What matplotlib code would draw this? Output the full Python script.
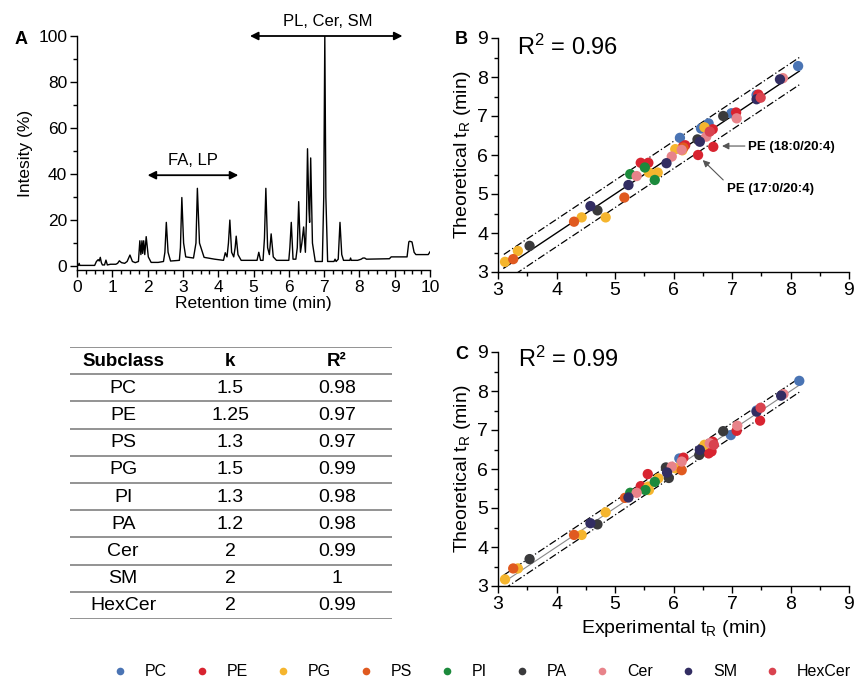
import matplotlib
matplotlib.use("Agg")
import matplotlib.pyplot as plt
from matplotlib.lines import Line2D
from matplotlib.ticker import MultipleLocator
import numpy as np

plt.rcParams['font.family'] = ['Liberation Sans', 'DejaVu Sans']
plt.rcParams['mathtext.fontset'] = 'custom'
plt.rcParams['mathtext.rm'] = 'Liberation Sans'
plt.rcParams['mathtext.it'] = 'Liberation Sans:italic'
plt.rcParams['mathtext.bf'] = 'Liberation Sans:bold'

# ---------------- Data ----------------
# Chromatogram trace (retention time in min, intensity in %)
rt_min = [0, 0.04, 0.06, 0.08, 0.5, 0.55, 0.6, 0.63, 0.66, 0.69, 0.72, 0.78, 0.82, 0.86,
          0.95, 1.1, 1.15, 1.2, 1.26, 1.35, 1.42, 1.5, 1.57, 1.65, 1.74, 1.78, 1.81, 1.84,
          1.86, 1.89, 1.92, 1.96, 2.02, 2.1, 2.3, 2.45, 2.49, 2.53, 2.58, 2.65, 2.9, 2.93,
          2.97, 3.02, 3.08, 3.3, 3.37, 3.41, 3.47, 3.6, 3.9, 4.15, 4.2, 4.25, 4.29, 4.33,
          4.38, 4.44, 4.48, 4.51, 4.56, 4.65, 5.1, 5.15, 5.2, 5.27, 5.31, 5.35, 5.4, 5.45,
          5.5, 5.56, 5.65, 6.0, 6.03, 6.07, 6.12, 6.2, 6.24, 6.28, 6.33, 6.37, 6.42, 6.47,
          6.5, 6.53, 6.57, 6.59, 6.62, 6.67, 6.75, 6.95, 6.99, 7.02, 7.05, 7.1, 7.28, 7.31,
          7.34, 7.4, 7.45, 7.5, 7.55, 7.73, 7.75, 7.77, 7.95, 8.05, 8.1, 8.15, 8.2, 8.85,
          8.9, 9.35, 9.4, 9.42, 9.49, 9.55, 9.6, 9.95, 10.0]
intensity = [0.3, 0.3, 1.2, 0.3, 0.3, 2.0, 2.8, 2.2, 3.8, 1.5, 0.5, 0.5, 2.6, 0.5,
             0.8, 0.8, 1.2, 2.3, 1.5, 1.2, 2.0, 4.8, 2.0, 1.5, 2.0, 11.0, 5.0, 11.0,
             5.5, 11.0, 5.0, 12.8, 4.0, 1.6, 1.6, 2.0, 6.0, 19.0, 6.0, 2.2, 2.5, 8.0,
             29.8, 10.0, 4.0, 3.5, 10.0, 33.8, 10.0, 3.8, 3.0, 2.5, 5.8, 4.0, 10.0, 20.0,
             6.0, 4.0, 8.0, 13.0, 5.0, 2.5, 2.5, 6.0, 2.5, 2.5, 12.0, 33.8, 8.0, 5.0,
             14.0, 4.0, 2.5, 2.5, 8.0, 19.0, 3.0, 3.0, 8.0, 28.0, 6.0, 10.0, 17.0, 6.0,
             20.0, 51.0, 25.0, 19.0, 47.0, 10.0, 2.0, 2.0, 30.0, 100.0, 30.0, 2.0, 2.0, 3.0,
             2.0, 3.0, 19.0, 5.0, 2.5, 2.5, 3.5, 2.5, 2.5, 3.0, 3.5, 3.5, 3.0, 3.2,
             4.0, 4.0, 10.5, 10.8, 10.5, 6.0, 5.0, 5.0, 6.2]

# Table
subclasses = ['PC', 'PE', 'PS', 'PG', 'PI', 'PA', 'Cer', 'SM', 'HexCer']
k_values = ['1.5', '1.25', '1.3', '1.5', '1.3', '1.2', '2', '2', '2']
r2_values = ['0.98', '0.97', '0.97', '0.99', '0.98', '0.98', '0.99', '1', '0.99']

# Legend order / colours
classes = ['PC', 'PE', 'PG', 'PS', 'PI', 'PA', 'Cer', 'SM', 'HexCer']
colors = {'PC': '#4a74b4', 'PE': '#d82430', 'PG': '#f5b52e', 'PS': '#e05a20',
          'PI': '#1c8a3c', 'PA': '#3a3a3c', 'Cer': '#e8838a', 'SM': '#322d62',
          'HexCer': '#d9434f'}

# Panel B: (experimental, theoretical) tR
b_exp = {
    'PC': [8.13, 7.42, 6.99, 6.60, 6.47, 6.11],
    'PE': [5.44, 5.57, 6.16, 6.20, 6.67, 6.68, 6.42, 7.07, 7.45],
    'PG': [3.12, 3.34, 4.43, 4.84, 5.58, 5.73, 6.03, 6.15, 6.53],
    'PS': [3.26, 4.30, 5.16, 6.17],
    'PI': [5.26, 5.51, 5.68],
    'PA': [3.54, 4.70, 6.41, 6.85],
    'Cer': [5.37, 5.97, 6.14, 6.56, 7.08, 7.87],
    'SM': [4.58, 5.23, 5.88, 6.45, 7.42, 7.82],
    'HexCer': [7.49, 6.62],
}
b_theo = {
    'PC': [8.28, 7.54, 7.07, 6.81, 6.68, 6.44],
    'PE': [5.80, 5.80, 6.21, 6.25, 6.66, 6.21, 6.00, 7.09, 7.55],
    'PG': [3.26, 3.54, 4.40, 4.40, 5.55, 5.55, 6.15, 6.12, 6.71],
    'PS': [3.33, 4.29, 4.91, 6.19],
    'PI': [5.51, 5.68, 5.36],
    'PA': [3.67, 4.58, 6.40, 7.00],
    'Cer': [5.46, 5.96, 6.13, 6.47, 6.94, 7.97],
    'SM': [4.69, 5.23, 5.79, 6.34, 7.43, 7.94],
    'HexCer': [7.47, 6.60],
}

# Panel C
c_exp = {
    'PC': [8.15, 6.98, 6.62, 6.55, 6.10, 7.42],
    'PE': [5.44, 5.56, 6.17, 6.60, 6.67, 7.08, 7.48, 6.65],
    'PG': [3.12, 3.34, 4.43, 4.84, 5.58, 5.57, 5.74, 6.03, 6.53],
    'PS': [3.26, 4.30, 5.17, 6.14],
    'PI': [5.26, 5.52, 5.68],
    'PA': [3.54, 4.70, 5.87, 5.92, 6.44, 6.85],
    'Cer': [5.37, 5.97, 6.14, 6.62, 7.09, 7.88],
    'SM': [4.58, 5.23, 5.89, 6.45, 7.42, 7.84],
    'HexCer': [7.49, 6.69],
}
c_theo = {
    'PC': [8.26, 6.87, 6.48, 6.58, 6.27, 7.50],
    'PE': [5.56, 5.87, 6.29, 6.40, 6.70, 6.98, 7.24, 6.45],
    'PG': [3.17, 3.45, 4.31, 4.89, 5.46, 5.55, 5.76, 6.02, 6.62],
    'PS': [3.45, 4.31, 5.26, 5.97],
    'PI': [5.39, 5.46, 5.67],
    'PA': [3.69, 4.58, 6.04, 5.77, 6.36, 6.97],
    'Cer': [5.39, 6.06, 6.19, 6.66, 7.11, 7.92],
    'SM': [4.61, 5.27, 5.91, 6.49, 7.47, 7.88],
    'HexCer': [7.57, 6.62],
}

fit_range = [3.1, 8.15]
band_b = 0.35
band_c = 0.18

# ---------------- Figure ----------------
W, H = 857, 681
fig = plt.figure(figsize=(W / 100, H / 100), dpi=100)


def px_axes(left, top, right, bottom):
    return fig.add_axes([left / W, 1 - bottom / H, (right - left) / W, (bottom - top) / H])


def style_axes(ax, fs):
    for s in ['top', 'right']:
        ax.spines[s].set_visible(False)
    for s in ['left', 'bottom']:
        ax.spines[s].set_linewidth(1.0)
    ax.tick_params(which='major', direction='out', length=5, width=1.0, labelsize=fs, pad=2)
    ax.tick_params(which='minor', direction='out', length=3, width=1.0)


# Panel A: chromatogram
axA = px_axes(77, 36, 430, 270)
axA.plot(rt_min, intensity, color='black', lw=1.0)
axA.set_xlim(0, 10)
axA.set_ylim(-1.7, 100)
axA.set_xticks(range(0, 11))
axA.set_yticks(range(0, 101, 20))
axA.xaxis.set_minor_locator(MultipleLocator(0.25))
axA.yaxis.set_minor_locator(MultipleLocator(10))
style_axes(axA, 12.5)
axA.set_xlabel('Retention time (min)', fontsize=12.5, labelpad=1)
axA.set_ylabel('Intesity (%)', fontsize=12.5, labelpad=4)
axA.annotate('', xy=(2.0, 39.5), xytext=(4.57, 39.5),
             arrowprops=dict(arrowstyle='<|-|>', color='black', lw=1.3,
                             mutation_scale=12, shrinkA=0, shrinkB=0))
axA.text(3.28, 42.5, 'FA, LP', ha='center', va='bottom', fontsize=12)
axA.annotate('', xy=(4.9, 100), xytext=(9.22, 100),
             arrowprops=dict(arrowstyle='<|-|>', color='black', lw=1.3,
                             mutation_scale=12, shrinkA=0, shrinkB=0),
             annotation_clip=False)
axA.text(7.1, 103, 'PL, Cer, SM', ha='center', va='bottom', fontsize=12, clip_on=False)
fig.text(15 / W, 1 - 40 / H, 'A', fontsize=13, fontweight='bold', ha='left', va='center')


def scatter_panel(ax, exp, theo, band, solid_color, solid_lw):
    xs = np.array(fit_range)
    ax.plot(xs, xs, color=solid_color, lw=solid_lw, zorder=1)
    ax.plot(xs, xs + band, color='black', lw=0.9, ls=(0, (6, 2, 1, 2)), zorder=1)
    ax.plot(xs, xs - band, color='black', lw=0.9, ls=(0, (6, 2, 1, 2)), zorder=1)
    for cl in classes:
        ax.scatter(exp[cl], theo[cl], s=55, color=colors[cl], edgecolors='none', zorder=3)
    ax.set_xlim(3, 9)
    ax.set_ylim(3, 9)
    ax.set_xticks(range(3, 10))
    ax.set_yticks(range(3, 10))
    ax.xaxis.set_minor_locator(MultipleLocator(0.5))
    ax.yaxis.set_minor_locator(MultipleLocator(0.5))
    style_axes(ax, 14)
    ax.set_ylabel('Theoretical t$_\\mathrm{R}$ (min)', fontsize=14, labelpad=3)
    for sp in ax.spines.values():
        sp.set_zorder(5)


axB = px_axes(498, 38, 849, 272)
scatter_panel(axB, b_exp, b_theo, band_b, 'black', 1.0)
axB.text(517 / W, 1 - 47 / H, 'R$^2$ = 0.96', transform=fig.transFigure,
         fontsize=17, ha='left', va='center')
fig.text(455 / W, 1 - 40 / H, 'B', fontsize=13, fontweight='bold', ha='left', va='center')
# annotation 1: PE (18:0/20:4)
axB.text(7.27, 6.2, 'PE (18:0/20:4)', fontsize=9.5, fontweight='bold', ha='left', va='center')
axB.annotate('', xy=(6.83, 6.23), xytext=(7.22, 6.23),
             arrowprops=dict(arrowstyle='-|>', color='#555555', lw=0.8,
                             mutation_scale=10, shrinkA=0, shrinkB=0))
# annotation 2: PE (17:0/20:4)
axB.text(6.91, 5.13, 'PE (17:0/20:4)', fontsize=9.5, fontweight='bold', ha='left', va='center')
axB.annotate('', xy=(6.50, 5.87), xytext=(6.85, 5.36),
             arrowprops=dict(arrowstyle='-|>', color='#555555', lw=0.8,
                             mutation_scale=10, shrinkA=0, shrinkB=0))

axC = px_axes(498, 352, 849, 586)
scatter_panel(axC, c_exp, c_theo, band_c, '#888888', 0.8)
axC.set_xlabel('Experimental t$_\\mathrm{R}$ (min)', fontsize=14, labelpad=4)
axC.text(518 / W, 1 - 359 / H, 'R$^2$ = 0.99', transform=fig.transFigure,
         fontsize=17, ha='left', va='center')
fig.text(455 / W, 1 - 354 / H, 'C', fontsize=13, fontweight='bold', ha='left', va='center')

# Table
axT = px_axes(70, 347, 392, 619)
axT.set_xlim(0, 1)
axT.set_ylim(10, 0)
axT.axis('off')
for i in range(11):
    axT.axhline(i, color='#8a8a8a', lw=1.3)
col_x = [0.165, 0.497, 0.829]
headers = ['Subclass', 'k', 'R²']
for x, h in zip(col_x, headers):
    axT.text(x, 0.52, h, ha='center', va='center', fontsize=13.5, fontweight='bold')
for r, (s, k, r2) in enumerate(zip(subclasses, k_values, r2_values)):
    y = r + 1.52
    axT.text(col_x[0], y, s, ha='center', va='center', fontsize=14)
    axT.text(col_x[1], y, k, ha='center', va='center', fontsize=14)
    axT.text(col_x[2], y, r2, ha='center', va='center', fontsize=14)

# Legend
handles = [Line2D([], [], marker='o', ls='none', markersize=5.5, color=colors[c],
                  markeredgewidth=0) for c in classes]
fig.legend(handles, classes, loc='center left', bbox_to_anchor=(112 / W, 1 - 672 / H),
           ncol=9, frameon=False, fontsize=11.5, handlelength=1.0, handletextpad=1.05,
           columnspacing=1.7, borderpad=0, borderaxespad=0)

fig.savefig('out.png', dpi=100)
